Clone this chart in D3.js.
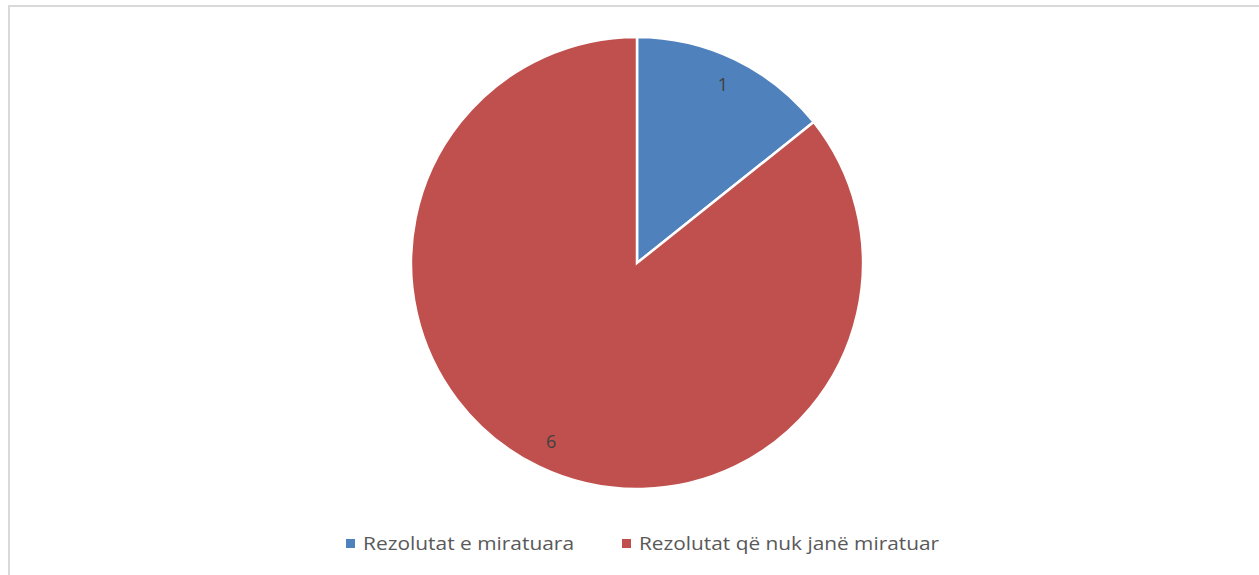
<!DOCTYPE html>
<html><head><meta charset="utf-8">
<script src="https://cdn.jsdelivr.net/npm/d3@7"></script>
<style>html,body{margin:0;padding:0;background:#fff;}</style>
</head><body>
<svg id="chart" width="1259" height="575"></svg>
<script>
const categories = ["Rezolutat e miratuara", "Rezolutat që nuk janë miratuar"];
const values = [1, 6];
const colors = ["#4F81BD", "#C0504D"];

const svg = d3.select("#chart");
// chart frame
svg.append("path").attr("d", "M9,580 L9,6 L1262,6").attr("fill","none").attr("stroke","#d9d9d9").attr("stroke-width",2);

const cx = 637, cy = 263, r = 226;
const data = categories.map((c,i)=>({cat:c, value:values[i], color:colors[i]}));
const pie = d3.pie().value(d=>d.value).sort(null);
const arcs = pie(data);
const arc = d3.arc().innerRadius(0).outerRadius(r);
const labelArc = d3.arc().innerRadius(198).outerRadius(198);
const g = svg.append("g").attr("transform", `translate(${cx},${cy})`);
g.selectAll("path.slice").data(arcs).join("path").attr("class","slice")
  .attr("d", arc).attr("fill", d=>d.data.color).attr("stroke","#fff").attr("stroke-width",2.5).attr("stroke-linejoin","miter");
g.selectAll("text.lbl").data(arcs).join("text").attr("class","lbl")
  .attr("transform", d=>`translate(${labelArc.centroid(d)})`)
  .attr("text-anchor","middle").attr("dy","0.35em")
  .attr("font-family","Open Sans, Liberation Sans, Arial, sans-serif").attr("font-size",18).attr("fill","#404040")
  .text(d=>d.data.value);

// legend
const legendX = [346, 622];
const legendW = [211, 300];
const lg = svg.append("g");
data.forEach((d,i)=>{
  lg.append("rect").attr("x", legendX[i]).attr("y", 539).attr("width", 9).attr("height", 9).attr("fill", d.color);
  lg.append("text").attr("x", legendX[i]+17).attr("y", 550)
    .attr("font-family","Open Sans, Liberation Sans, Arial, sans-serif").attr("font-size",19).attr("fill","#595959")
    .attr("textLength", legendW[i]).attr("lengthAdjust","spacingAndGlyphs")
    .text(d.cat);
});
</script>
</body></html>
